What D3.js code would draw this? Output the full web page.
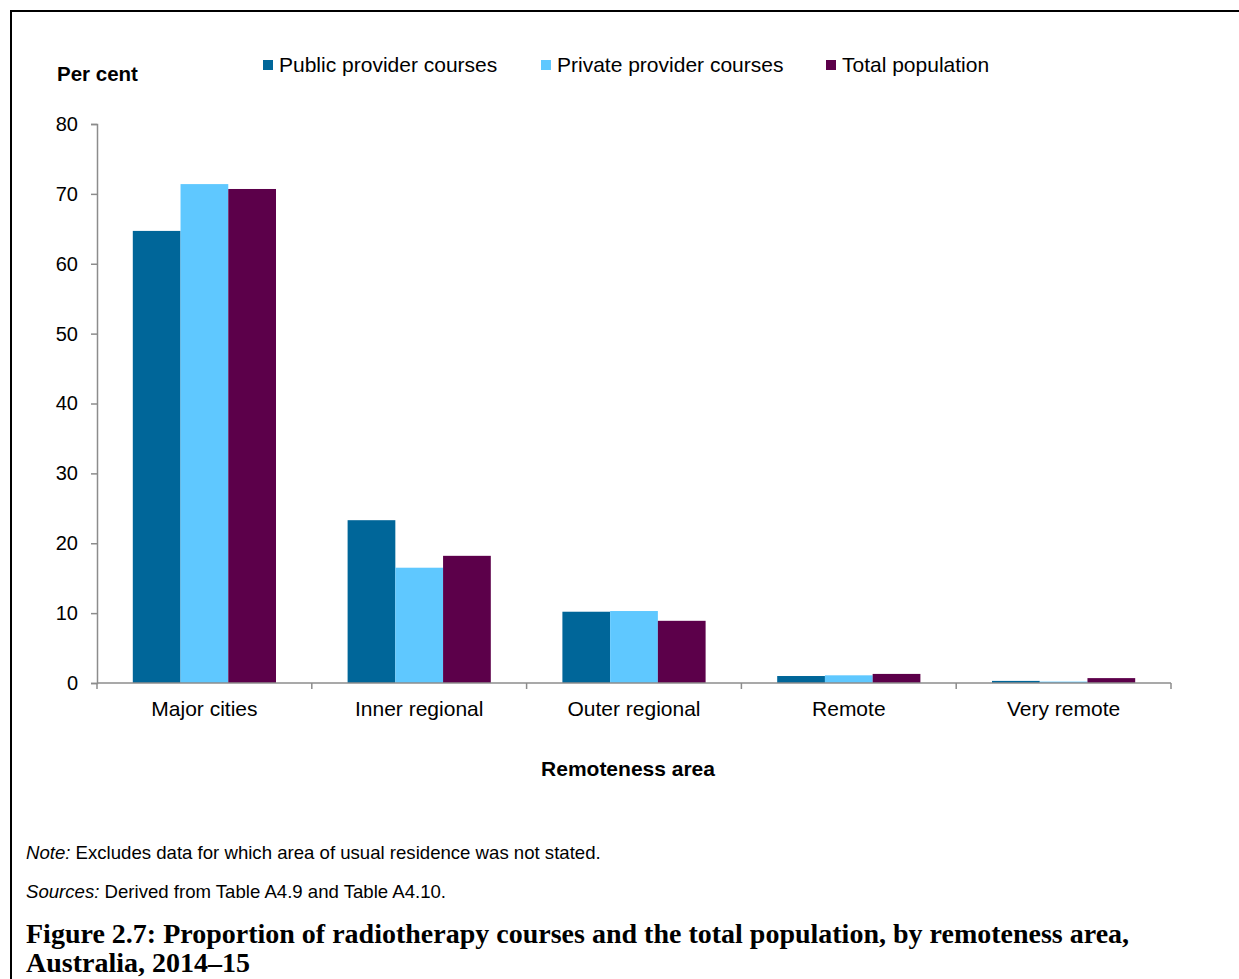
<!DOCTYPE html>
<html>
<head>
<meta charset="utf-8">
<script src="https://cdn.jsdelivr.net/npm/d3@7"></script>
<style>
  html, body { margin: 0; padding: 0; background: #fff; }
  svg { display: block; }
  text { font-family: Arial, "Liberation Sans", sans-serif; fill: #000; }
</style>
</head>
<body>
<svg id="chart" width="1239" height="979"></svg>
<script>
// Remoteness areas and per cent shares for each series
const categories = ["Major cities", "Inner regional", "Outer regional", "Remote", "Very remote"];
const seriesNames = ["Public provider courses", "Private provider courses", "Total population"];
const publicCourses = [64.7, 23.3, 10.2, 1.0, 0.3];
const privateCourses = [71.4, 16.5, 10.3, 1.1, 0.2];
const totalPopulation = [70.7, 18.2, 8.9, 1.3, 0.7];
const yTicks = [0, 10, 20, 30, 40, 50, 60, 70, 80];
const seriesColors = ["#006699", "#5fc8ff", "#5c004a"];

const seriesValues = [publicCourses, privateCourses, totalPopulation];
const rows = categories.map((c, i) => ({
  category: c,
  values: seriesNames.map((s, j) => ({ series: s, value: seriesValues[j][i] }))
}));

const svg = d3.select("#chart");

// Outer frame
svg.append("path")
  .attr("d", "M11,1000 V11 H1250")
  .attr("fill", "none")
  .attr("stroke", "#000")
  .attr("stroke-width", 2);

const plot = { left: 97, right: 1171, top: 124, bottom: 683 };

const x0 = d3.scaleBand()
  .domain(categories)
  .range([plot.left, plot.right])
  .paddingInner(1 / 3)
  .paddingOuter(1 / 6);

const x1 = d3.scaleBand()
  .domain(seriesNames)
  .range([0, x0.bandwidth()]);

const y = d3.scaleLinear()
  .domain([0, 80])
  .range([plot.bottom, plot.top]);

const color = d3.scaleOrdinal().domain(seriesNames).range(seriesColors);

// Bars
svg.append("g")
  .selectAll("g")
  .data(rows)
  .join("g")
  .attr("transform", d => `translate(${x0(d.category)},0)`)
  .selectAll("rect")
  .data(d => d.values)
  .join("rect")
  .attr("x", d => x1(d.series))
  .attr("y", d => y(d.value))
  .attr("width", x1.bandwidth())
  .attr("height", d => y(0) - y(d.value))
  .attr("fill", d => color(d.series));

// Y axis
const yAxis = svg.append("g")
  .attr("transform", `translate(${plot.left},0)`)
  .call(d3.axisLeft(y).tickValues(yTicks).tickSize(6).tickPadding(13).tickSizeOuter(6));
yAxis.selectAll("path, line").attr("stroke", "#8c8c8c").attr("stroke-width", 1.5);
yAxis.selectAll("text")
  .style("font-size", "20px")
  .style("font-family", "Arial, 'Liberation Sans', sans-serif")
  .attr("fill", "#000");

// X axis: ticks sit on the category boundaries
const xAxisG = svg.append("g").attr("class", "x-axis");
xAxisG.append("line")
  .attr("x1", plot.left).attr("x2", plot.right)
  .attr("y1", plot.bottom).attr("y2", plot.bottom)
  .attr("stroke", "#8c8c8c").attr("stroke-width", 1.5);
const step = x0.step();
const boundaries = d3.range(categories.length + 1).map(i => plot.left + i * step);
xAxisG.selectAll("line.tick")
  .data(boundaries)
  .join("line")
  .attr("class", "tick")
  .attr("x1", d => d).attr("x2", d => d)
  .attr("y1", plot.bottom).attr("y2", plot.bottom + 6)
  .attr("stroke", "#8c8c8c").attr("stroke-width", 1.5);
xAxisG.selectAll("text")
  .data(categories)
  .join("text")
  .attr("x", d => x0(d) + x0.bandwidth() / 2)
  .attr("y", 716)
  .attr("text-anchor", "middle")
  .style("font-size", "21px")
  .text(d => d);

// Axis titles
svg.append("text")
  .attr("x", 57).attr("y", 81)
  .style("font-size", "20.5px").style("font-weight", "bold")
  .text("Per cent");

svg.append("text")
  .attr("x", 628).attr("y", 776)
  .attr("text-anchor", "middle")
  .style("font-size", "21px").style("font-weight", "bold")
  .text("Remoteness area");

// Legend
const legendX = [263, 541, 826];
const legend = svg.append("g")
  .selectAll("g")
  .data(seriesNames)
  .join("g")
  .attr("transform", (d, i) => `translate(${legendX[i]},60)`);
legend.append("rect")
  .attr("width", 10).attr("height", 10)
  .attr("fill", d => color(d));
legend.append("text")
  .attr("x", 16).attr("y", 12)
  .style("font-size", "21px")
  .text(d => d);

// Notes
const note = svg.append("text").attr("x", 26).attr("y", 859).style("font-size", "18.6px");
note.append("tspan").style("font-style", "italic").text("Note:");
note.append("tspan").text(" Excludes data for which area of usual residence was not stated.");

const src = svg.append("text").attr("x", 26).attr("y", 898).style("font-size", "18.6px");
src.append("tspan").style("font-style", "italic").text("Sources:");
src.append("tspan").text(" Derived from Table A4.9 and Table A4.10.");

// Figure caption
const captionLines = [
  "Figure 2.7: Proportion of radiotherapy courses and the total population, by remoteness area,",
  "Australia, 2014\u201315"
];
svg.selectAll("text.caption")
  .data(captionLines)
  .join("text")
  .attr("class", "caption")
  .attr("x", 26)
  .attr("y", (d, i) => 943 + i * 29)
  .style("font-family", "'Palatino Linotype', 'Book Antiqua', Palatino, 'Liberation Serif', serif")
  .style("font-size", "28px")
  .style("font-weight", "bold")
  .text(d => d);
</script>
</body>
</html>
